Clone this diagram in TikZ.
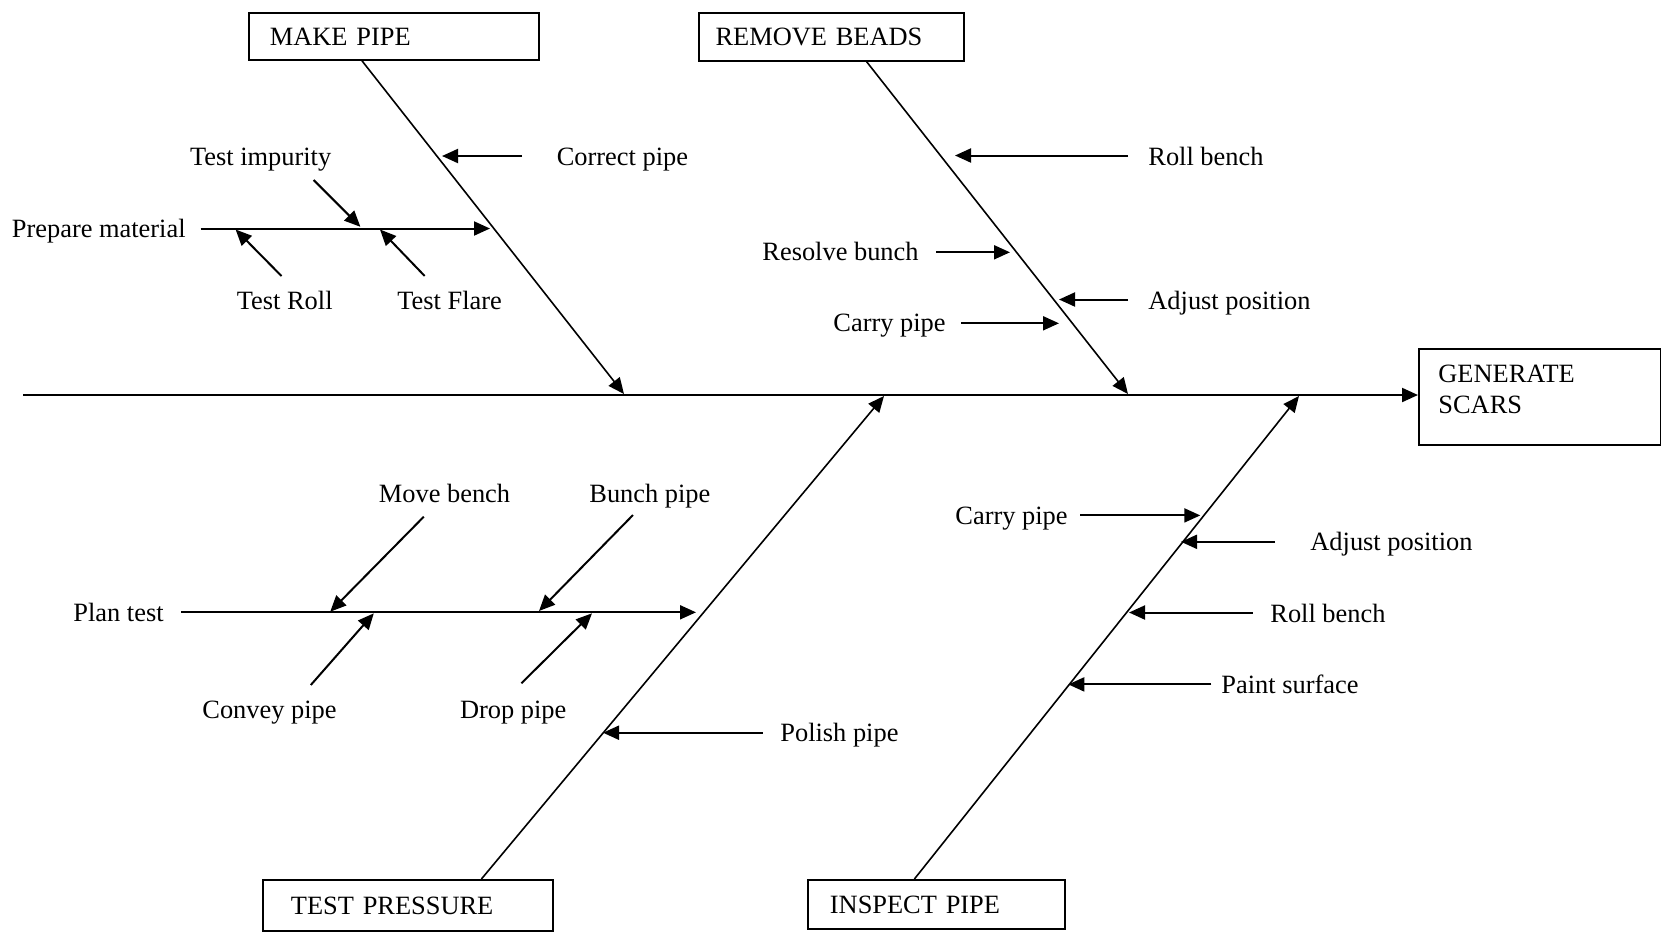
\documentclass[tikz,border=0pt]{standalone}
\usepackage{fontspec}
\setmainfont{Liberation Serif}
\usetikzlibrary{arrows.meta}
\begin{document}
\begin{tikzpicture}[x=0.5pt,y=-0.5pt,
  every node/.style={font=\fontsize{13.2}{15.5}\selectfont},
  fishtip/.tip={Triangle[length=8pt,width=7pt]},
  causebox/.style={draw,line width=0.9pt,anchor=north west,align=left,inner ysep=0pt},
  causetext/.style={inner sep=0pt},
  spineline/.style={line width=1.05pt,-{fishtip}},
  boneline/.style={line width=0.8pt,-{fishtip}},
  subarrow/.style={line width=1pt,-{fishtip}}]
\useasboundingbox (0,0) rectangle (1661,934);

% category boxes
\node[causebox,inner xsep=10.5pt,text width=124pt,minimum height=23.5pt] (mp) at (248,12) {MAKE PIPE};
\node[causebox,inner xsep=8.5pt,text width=115.5pt,minimum height=24pt] (rb) at (697.7,12) {REMOVE BEADS};
\node[causebox,inner xsep=14pt,text width=117pt,minimum height=25.5pt] (tp) at (262,879) {TEST PRESSURE};
\node[causebox,inner xsep=11pt,text width=106.5pt,minimum height=24.5pt] (ip) at (807,879) {INSPECT PIPE};

% effect box
\node[draw,line width=0.9pt,anchor=north west,minimum width=121pt,minimum height=48pt,inner sep=0pt] (gs) at (1418,348) {};
\node[causetext,anchor=north west,align=left] (gsText) at (1438,364.5) {GENERATE\\SCARS};

% spine
\coordinate (spTail) at (23,395);
\draw[spineline] (spTail) -- (spTail -| gs.west);

% main bones
\coordinate (mpEnd) at (624,394);
\coordinate (rbEnd) at (1128,394);
\coordinate (tpEnd) at (884,396);
\coordinate (ipEnd) at (1299,396);
\draw[boneline] ([xshift=57pt]mp.south west) -- (mpEnd);
\draw[boneline] ([xshift=84.5pt]rb.south west) -- (rbEnd);
\draw[boneline] ([xshift=109.7pt]tp.north west) -- (tpEnd);
\draw[boneline] ([xshift=53.7pt]ip.north west) -- (ipEnd);

% MAKE PIPE causes
\node[causetext,anchor=base west] (cp) at (556.4,165.7) {Correct pipe};
\node[causetext,anchor=base west] (ti) at (189.7,165.7) {Test impurity};
\node[causetext,anchor=base east] (pm) at (186,237.2) {Prepare material};
\node[causetext,anchor=base west] (tr) at (236.5,309.7) {Test Roll};
\node[causetext,anchor=base west] (tf) at (397,309.7) {Test Flare};
\coordinate (cpA) at (522,156);   \coordinate (cpB) at (442,156);
\coordinate (pmA) at (200.7,228.5); \coordinate (pmB) at (490,228.5);
\coordinate (tiA) at (313.6,180); \coordinate (tiB) at (360.4,226.8);
\coordinate (trA) at (281.5,276); \coordinate (trB) at (235.6,229.5);
\coordinate (tfA) at (424.7,276); \coordinate (tfB) at (380,229.5);
\draw[subarrow] (cpA) -- (cpB);
\draw[subarrow] (pmA) -- (pmB);
\draw[subarrow] (tiA) -- (tiB);
\draw[subarrow] (trA) -- (trB);
\draw[subarrow] (tfA) -- (tfB);

% REMOVE BEADS causes
\node[causetext,anchor=base west] (rb1) at (1148,165.2) {Roll bench};
\node[causetext,anchor=base east] (rsb) at (919,260.8) {Resolve bunch};
\node[causetext,anchor=base west] (ap1) at (1148,309.5) {Adjust position};
\node[causetext,anchor=base east] (cy1) at (946,331.5) {Carry pipe};
\coordinate (rb1A) at (1128,155.5); \coordinate (rb1B) at (955,155.5);
\coordinate (rsbA) at (936,252.3);  \coordinate (rsbB) at (1010,252.3);
\coordinate (ap1A) at (1128,299.5); \coordinate (ap1B) at (1059,299.5);
\coordinate (cy1A) at (961,323.3);  \coordinate (cy1B) at (1059,323.3);
\draw[subarrow] (rb1A) -- (rb1B);
\draw[subarrow] (rsbA) -- (rsbB);
\draw[subarrow] (ap1A) -- (ap1B);
\draw[subarrow] (cy1A) -- (cy1B);

% TEST PRESSURE causes
\node[causetext,anchor=base west] (mb) at (378.5,502) {Move bench};
\node[causetext,anchor=base west] (bp) at (589,502) {Bunch pipe};
\node[causetext,anchor=base east] (pt) at (164,621.2) {Plan test};
\node[causetext,anchor=base west] (cv) at (202,718.7) {Convey pipe};
\node[causetext,anchor=base west] (dp) at (459.6,718.7) {Drop pipe};
\node[causetext,anchor=base west] (pp) at (780,741.7) {Polish pipe};
\coordinate (ptA) at (181.4,612.3); \coordinate (ptB) at (696,612.3);
\coordinate (mbA) at (423.8,516.7); \coordinate (mbB) at (330.2,611.7);
\coordinate (bpA) at (633,515);     \coordinate (bpB) at (539,611);
\coordinate (cvA) at (310.8,685);   \coordinate (cvB) at (373.8,613.3);
\coordinate (dpA) at (521.4,683.3); \coordinate (dpB) at (592,613.3);
\coordinate (ppA) at (762.6,732.7); \coordinate (ppB) at (603,732.7);
\draw[subarrow] (ptA) -- (ptB);
\draw[subarrow] (mbA) -- (mbB);
\draw[subarrow] (bpA) -- (bpB);
\draw[subarrow] (cvA) -- (cvB);
\draw[subarrow] (dpA) -- (dpB);
\draw[subarrow] (ppA) -- (ppB);

% INSPECT PIPE causes
\node[causetext,anchor=base east] (cy2) at (1068,524.7) {Carry pipe};
\node[causetext,anchor=base west] (ap2) at (1310,550.7) {Adjust position};
\node[causetext,anchor=base west] (rb2) at (1270,622.2) {Roll bench};
\node[causetext,anchor=base west] (ps) at (1221,693.7) {Paint surface};
\coordinate (cy2A) at (1080.4,515.4); \coordinate (cy2B) at (1200.3,515.4);
\coordinate (ap2A) at (1275,541.8);   \coordinate (ap2B) at (1181,541.8);
\coordinate (rb2A) at (1252.5,612.5); \coordinate (rb2B) at (1129,612.5);
\coordinate (psA) at (1211.3,684.4);  \coordinate (psB) at (1068.3,684.4);
\draw[subarrow] (cy2A) -- (cy2B);
\draw[subarrow] (ap2A) -- (ap2B);
\draw[subarrow] (rb2A) -- (rb2B);
\draw[subarrow] (psA) -- (psB);
\end{tikzpicture}
\end{document}
